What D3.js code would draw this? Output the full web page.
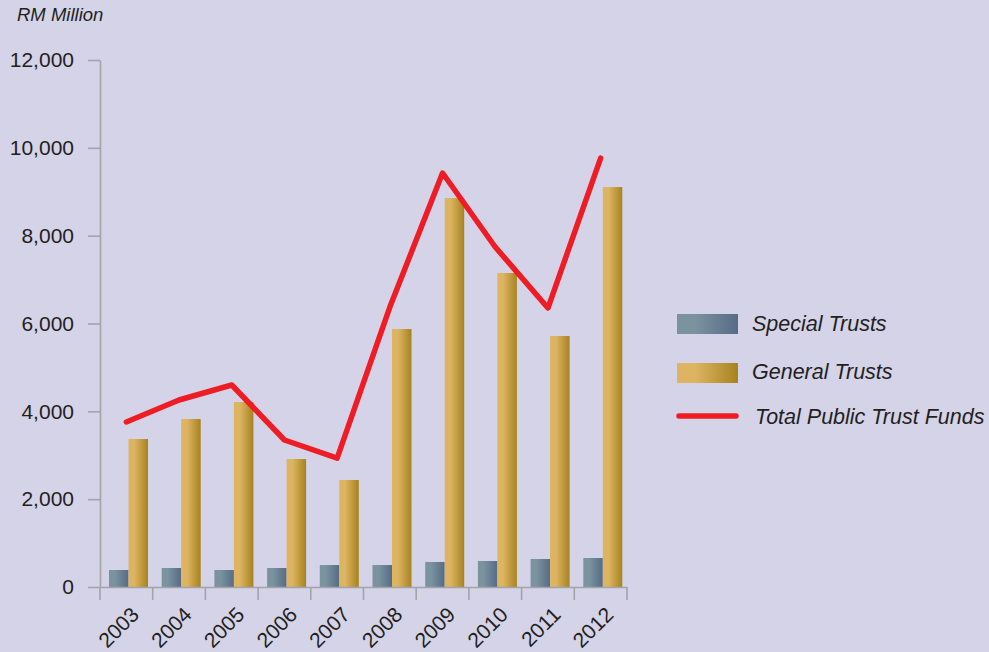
<!DOCTYPE html>
<html>
<head>
  <meta charset="utf-8">
  <title>Public Trust Funds</title>
  <script src="https://d3js.org/d3.v7.min.js"></script>
  <style>
    body { margin: 0; background: #d5d3e8; }
    svg { display: block; }
    text { font-family: "Liberation Sans", Arial, sans-serif; fill: #231f20; }
  </style>
</head>
<body>
<div id="container"></div>
<script>
  const width = 989, height = 652;

  // values (RM million)
  const years = ["2003", "2004", "2005", "2006", "2007", "2008", "2009", "2010", "2011", "2012"];
  const special = [387, 433, 387, 433, 500, 500, 570, 592, 637, 660];
  const general = [3370, 3825, 4212, 2914, 2436, 5874, 8857, 7150, 5715, 9107];
  const total = [3757, 4258, 4600, 3347, 2936, 6374, 9427, 7742, 6352, 9767];
  const yTicks = [0, 2000, 4000, 6000, 8000, 10000, 12000];
  const seriesNames = ["Special Trusts", "General Trusts", "Total Public Trust Funds"];

  const plot = { left: 100, right: 627, top: 60, bottom: 587 };

  const svg = d3.select("#container")
    .append("svg")
    .attr("width", width)
    .attr("height", height);

  svg.append("rect")
    .attr("width", width)
    .attr("height", height)
    .attr("fill", "#d5d3e8");

  const defs = svg.append("defs");
  function grad(id, c1, c2) {
    const g = defs.append("linearGradient")
      .attr("id", id)
      .attr("x1", "0").attr("x2", "1").attr("y1", "0").attr("y2", "0");
    g.append("stop").attr("offset", "0%").attr("stop-color", c1);
    g.append("stop").attr("offset", "30%").attr("stop-color", c1);
    g.append("stop").attr("offset", "100%").attr("stop-color", c2);
  }
  grad("gSpecial", "#7a939f", "#566b87");
  grad("gGeneral", "#ddb462", "#a6831f");

  const x = d3.scaleBand()
    .domain(years)
    .range([plot.left, plot.right])
    .paddingInner(0)
    .paddingOuter(0);

  const x1 = d3.scaleBand()
    .domain(["special", "general"])
    .range([9, 48]);

  const y = d3.scaleLinear()
    .domain([0, 12000])
    .range([plot.bottom, plot.top]);

  // y axis
  const yAxis = svg.append("g")
    .attr("transform", "translate(" + plot.left + ",0)")
    .call(d3.axisLeft(y)
      .tickValues(yTicks)
      .tickSize(12)
      .tickPadding(14)
      .tickSizeOuter(0)
      .tickFormat(d3.format(",")));
  yAxis.select(".domain").attr("stroke", "#a3a3a8").attr("stroke-width", 1.6);
  yAxis.selectAll(".tick line").attr("stroke", "#a3a3a8").attr("stroke-width", 1.6);
  yAxis.selectAll(".tick text")
    .style("font-size", "21px")
    .style("font-family", "'Liberation Sans', Arial, sans-serif")
    .attr("fill", "#231f20");

  svg.append("text")
    .attr("x", 17)
    .attr("y", 21)
    .style("font-size", "18.5px")
    .style("font-style", "italic")
    .text("RM Million");

  // bars
  const groups = svg.selectAll(".year")
    .data(years)
    .enter()
    .append("g")
    .attr("class", "year")
    .attr("transform", function(d) { return "translate(" + x(d) + ",0)"; });

  groups.append("rect")
    .attr("x", x1("special"))
    .attr("width", x1.bandwidth())
    .attr("y", function(d, i) { return y(special[i]); })
    .attr("height", function(d, i) { return y(0) - y(special[i]); })
    .attr("fill", "url(#gSpecial)");

  groups.append("rect")
    .attr("x", x1("general"))
    .attr("width", x1.bandwidth())
    .attr("y", function(d, i) { return y(general[i]); })
    .attr("height", function(d, i) { return y(0) - y(general[i]); })
    .attr("fill", "url(#gGeneral)");

  // x axis
  const xAxis = svg.append("g")
    .attr("transform", "translate(0," + plot.bottom + ")")
    .call(d3.axisBottom(x).tickSize(0).tickSizeOuter(0).tickFormat(""));
  xAxis.select(".domain").attr("stroke", "#a3a3a8").attr("stroke-width", 1.6);

  const bounds = years.map(function(d) { return x(d); }).concat([plot.right]);
  svg.selectAll(".xtick")
    .data(bounds)
    .enter()
    .append("line")
    .attr("x1", function(d) { return d; })
    .attr("x2", function(d) { return d; })
    .attr("y1", plot.bottom)
    .attr("y2", plot.bottom + 13)
    .attr("stroke", "#a3a3a8")
    .attr("stroke-width", 1.6);

  svg.selectAll(".xlabel")
    .data(years)
    .enter()
    .append("text")
    .attr("transform", function(d) {
      return "translate(" + (x(d) + x.bandwidth() / 2 + 14) + "," + 616 + ") rotate(-45)";
    })
    .attr("text-anchor", "end")
    .style("font-size", "21px")
    .text(function(d) { return d; });

  // total line
  const line = d3.line()
    .x(function(d, i) { return x(years[i]) + x.bandwidth() / 2; })
    .y(function(d) { return y(d); });

  svg.append("path")
    .datum(total)
    .attr("d", line)
    .attr("fill", "none")
    .attr("stroke", "#ee1d25")
    .attr("stroke-width", 5.5)
    .attr("stroke-linejoin", "round")
    .attr("stroke-linecap", "round");

  // legend
  const legend = svg.append("g").attr("transform", "translate(677,0)");
  legend.append("rect")
    .attr("x", 0).attr("y", 314).attr("width", 61).attr("height", 20)
    .attr("fill", "url(#gSpecial)");
  legend.append("rect")
    .attr("x", 0).attr("y", 363).attr("width", 61).attr("height", 20)
    .attr("fill", "url(#gGeneral)");
  legend.append("line")
    .attr("x1", 2).attr("x2", 59).attr("y1", 416).attr("y2", 416)
    .attr("stroke", "#ee1d25")
    .attr("stroke-width", 5.5)
    .attr("stroke-linecap", "round");

  legend.selectAll(".ltext")
    .data(seriesNames)
    .enter()
    .append("text")
    .attr("x", function(d, i) { return i == 2 ? 78 : 75; })
    .attr("y", function(d, i) { return [331, 379, 424][i]; })
    .style("font-size", "21.5px")
    .style("font-style", "italic")
    .text(function(d) { return d; });
</script>
</body>
</html>
